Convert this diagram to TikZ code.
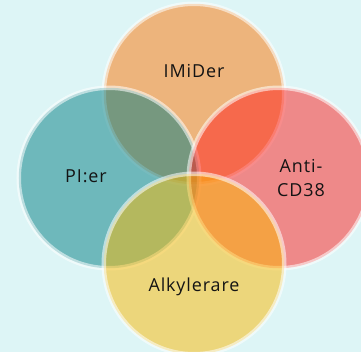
\documentclass[tikz,border=0pt]{standalone}
\usepackage{fontspec}
\setmainfont{Open Sans}[LetterSpace=5]
\usetikzlibrary{positioning}

\definecolor{bgcyan}{RGB}{221,245,246}
\definecolor{imidcol}{RGB}{253,117,4}
\definecolor{picol}{RGB}{0,125,130}
\definecolor{cdcol}{RGB}{255,31,30}
\definecolor{alkcol}{RGB}{251,185,2}
\definecolor{txtcol}{RGB}{20,20,20}

\begin{document}
\begin{tikzpicture}[
    x=1bp, y=-1bp,
    set/.style={circle, minimum size=180.5bp, inner sep=0pt, fill opacity=0.5, draw=white, draw opacity=0.55, line width=4.5bp},
    lbl/.style={font=\fontsize{18}{25}\selectfont, text=txtcol, align=center, inner sep=0pt}
]

% Background
\useasboundingbox (0,0) rectangle (361,352);
\clip (0,0) rectangle (361,352);
\fill[bgcyan] (0,0) rectangle (361,352);

% Circles
\node[set, fill=imidcol] (imid) at (194,94) {};
\node[set, fill=picol] (pi) at (109,178) {};
\node[set, fill=cdcol] (cd) at (279,178) {};
\node[set, fill=alkcol] (alk) at (194,264) {};

% Labels
\node[lbl] (imidtxt) at (194,71) {IMiDer};
\node[lbl] (pitxt) at (86,176) {PI:er};
\node[lbl] (cdtxt) at (301,178) {Anti-\\CD38};
\node[lbl] (alktxt) at (194,287) {Alkylerare};

\end{tikzpicture}
\end{document}
